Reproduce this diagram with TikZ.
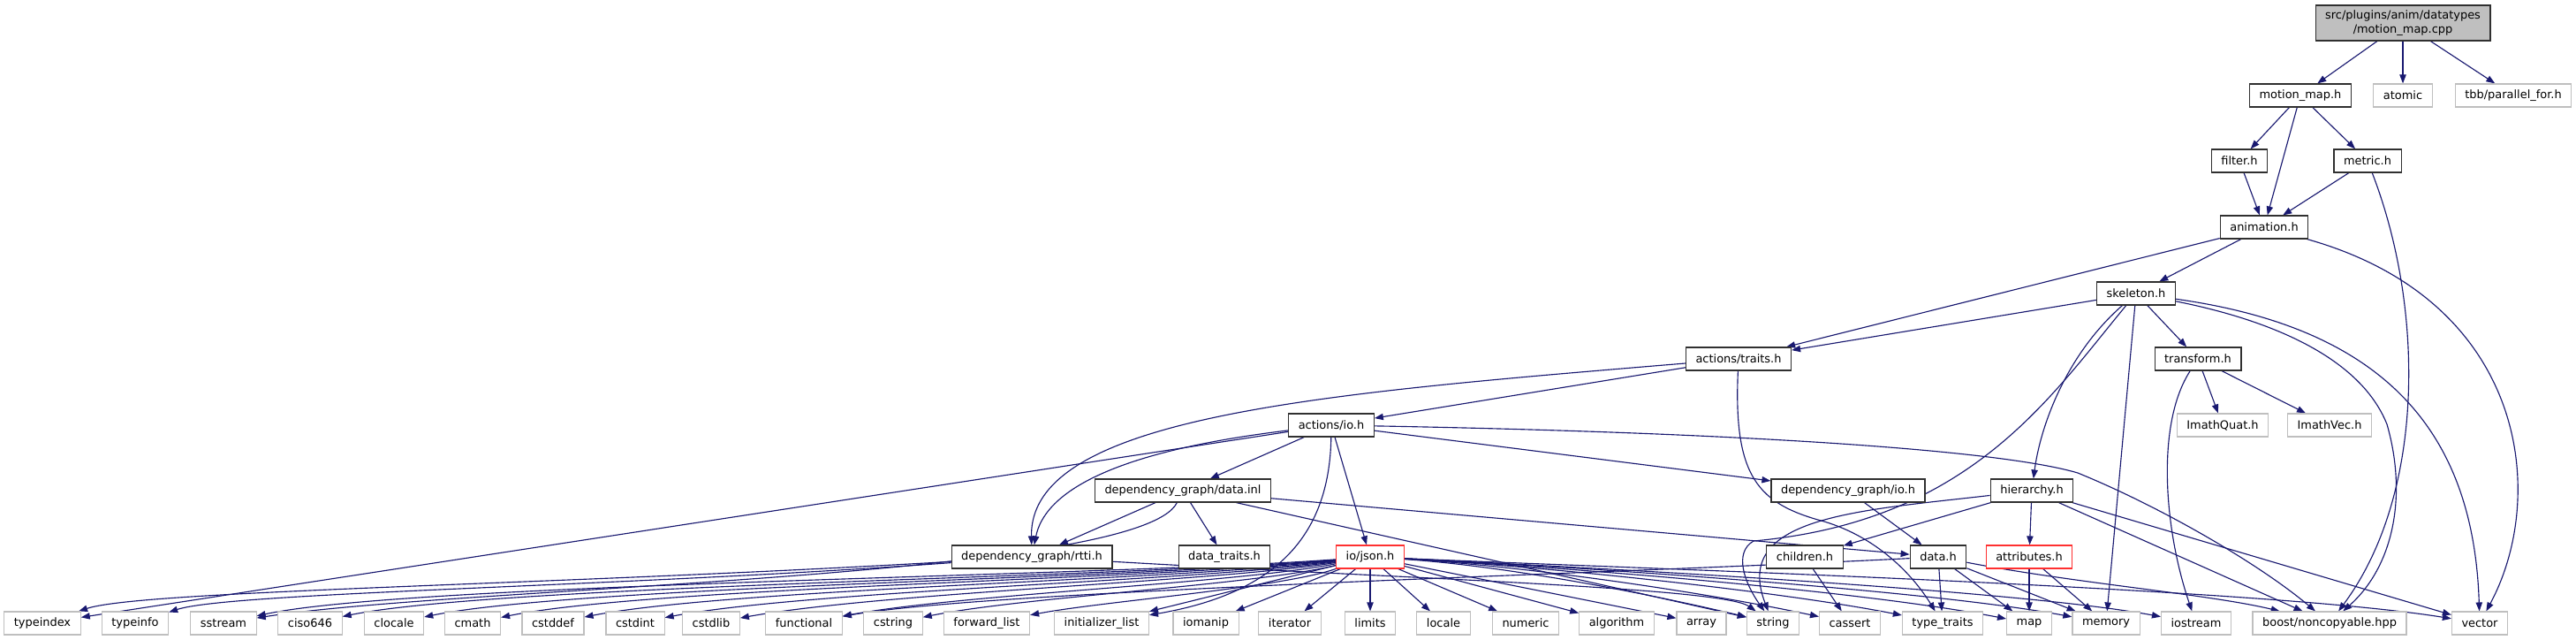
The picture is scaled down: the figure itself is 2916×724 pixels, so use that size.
\documentclass[tikz,border=0pt]{standalone}
\usepackage{fontspec}
\setmainfont{DejaVu Sans}
\usetikzlibrary{arrows.meta}
\pgfdeclarelayer{edgelayer}
\pgfsetlayers{edgelayer,main}
\definecolor{edgeblue}{HTML}{191970}
\definecolor{lgrey}{HTML}{BFBFBF}
\definecolor{truncred}{HTML}{FF3030}
\definecolor{boxline}{HTML}{303030}
\tikzset{
  hdr/.style={rectangle, draw=boxline, line width=0.85pt, fill=white, minimum height=19.5pt,
    inner xsep=8.3pt, inner ysep=0pt, font=\fontsize{9.7pt}{11.6pt}\selectfont},
  ext/.style={hdr, draw=lgrey, line width=0.85pt},
  trunc/.style={hdr, draw=truncred, line width=0.9pt},
  rootnode/.style={hdr, fill=lgrey, minimum height=30pt, align=center},
  dep/.style={draw=edgeblue, line width=0.85pt, -{Triangle[length=7.5pt,width=5.5pt]}}
}
\begin{document}
\begin{tikzpicture}[x=0.75pt,y=-0.75pt]
\useasboundingbox (0,0) rectangle (2916,724);
% nodes
\node[rootnode] (root) at (2720,26) {src/plugins/anim/datatypes\\/motion\_map.cpp};
\node[hdr] (mmh) at (2604,108) {motion\_map.h};
\node[ext] (atomic) at (2720,108) {atomic};
\node[ext] (tbb) at (2845,108) {tbb/parallel\_for.h};
\node[hdr] (filter) at (2535,182) {filter.h};
\node[hdr] (metric) at (2680,182) {metric.h};
\node[hdr] (anim) at (2563,257) {animation.h};
\node[hdr] (skel) at (2418,332) {skeleton.h};
\node[hdr] (traits) at (1968,406) {actions/traits.h};
\node[hdr] (transf) at (2488,406) {transform.h};
\node[hdr] (aio) at (1507,481) {actions/io.h};
\node[ext] (iquat) at (2516,481) {ImathQuat.h};
\node[ext] (ivec) at (2637,481) {ImathVec.h};
\node[hdr] (dinl) at (1339,555) {dependency\_graph/data.inl};
\node[hdr] (dgio) at (2092,555) {dependency\_graph/io.h};
\node[hdr] (hier) at (2300,555) {hierarchy.h};
\node[hdr] (rtti) at (1168,630) {dependency\_graph/rtti.h};
\node[hdr] (dtraits) at (1386,630) {data\_traits.h};
\node[trunc] (json) at (1551,630) {io/json.h};
\node[hdr] (children) at (2043,630) {children.h};
\node[hdr] (datah) at (2194,630) {data.h};
\node[trunc] (attr) at (2297,630) {attributes.h};
% bottom row
\node[ext] (ntypeindex) at (48,705) {typeindex};
\node[ext] (ntypeinfo) at (153,705) {typeinfo};
\node[ext] (nsstream) at (253,705) {sstream};
\node[ext] (nciso) at (351,705) {ciso646};
\node[ext] (nclocale) at (446,705) {clocale};
\node[ext] (ncmath) at (535,705) {cmath};
\node[ext] (ncstddef) at (626,705) {cstddef};
\node[ext] (ncstdint) at (719,705) {cstdint};
\node[ext] (ncstdlib) at (805,705) {cstdlib};
\node[ext] (nfunctional) at (910,705) {functional};
\node[ext] (ncstring) at (1011,705) {cstring};
\node[ext] (nfwdlist) at (1117,705) {forward\_list};
\node[ext] (ninitlist) at (1247,705) {initializer\_list};
\node[ext] (niomanip) at (1365,705) {iomanip};
\node[ext] (niterator) at (1460,705) {iterator};
\node[ext] (nlimits) at (1551,705) {limits};
\node[ext] (nlocale) at (1634,705) {locale};
\node[ext] (nnumeric) at (1727,705) {numeric};
\node[ext] (nalgorithm) at (1830,705) {algorithm};
\node[ext] (narray) at (1926,705) {array};
\node[ext] (nstring) at (2007,705) {string};
\node[ext] (ncassert) at (2094,705) {cassert};
\node[ext] (ntypetraits) at (2199,705) {type\_traits};
\node[ext] (nmap) at (2297,705) {map};
\node[ext] (nmemory) at (2384,705) {memory};
\node[ext] (niostream) at (2486,705) {iostream};
\node[ext] (nboost) at (2637,705) {boost/noncopyable.hpp};
\node[ext] (nvector) at (2807,705) {vector};
\begin{pgfonlayer}{edgelayer}
% edges: top
\draw[dep] (root) -- (mmh);
\draw[dep] (root) -- (atomic);
\draw[dep] (root) -- (tbb);
\draw[dep] (mmh) -- (filter);
\draw[dep] (mmh) -- (anim);
\draw[dep] (mmh) -- (metric);
\draw[dep] (filter) -- (anim);
\draw[dep] (metric) -- (anim);
\draw[dep] (metric) .. controls (2745,350) and (2745,560) .. (nboost);
\draw[dep] (anim) -- (traits);
\draw[dep] (anim) -- (skel);
\draw[dep] (anim) .. controls (2860,340) and (2885,560) .. (nvector);
% skeleton
\draw[dep] (skel) -- (traits);
\draw[dep] (skel) -- (transf);
\draw[dep] (skel) .. controls (2340,400) and (2310,480) .. (hier);
\draw[dep] (skel) -- (nmemory);
\draw[dep] (skel) .. controls (2320,450) and (2230,590) .. (1985,612) .. controls (1962,625) and (1975,660) .. (nstring);
\draw[dep] (skel) .. controls (2560,360) and (2670,400) .. (2702,480) .. controls (2725,560) and (2710,640) .. (nboost);
\draw[dep] (skel) .. controls (2690,370) and (2800,480) .. (nvector);
% transform
\draw[dep] (transf) -- (iquat);
\draw[dep] (transf) -- (ivec);
\draw[dep] (transf) .. controls (2440,480) and (2450,600) .. (niostream);
% actions/traits.h
\draw[dep] (traits) -- (aio);
\draw[dep] (traits) .. controls (1500,445) and (1165,470) .. (rtti);
\draw[dep] (traits) .. controls (1962,540) and (1990,570) .. (2065,590) .. controls (2125,608) and (2165,650) .. (ntypetraits);
% actions/io.h
\draw[dep] (aio) -- (dinl);
\draw[dep] (aio) -- (json);
\draw[dep] (aio) .. controls (1250,512) and (1182,560) .. (rtti);
\draw[dep] (aio) -- (ntypeindex);
\draw[dep] (aio) .. controls (1505,610) and (1440,672) .. (ninitlist);
\draw[dep] (aio) -- (dgio);
\draw[dep] (aio) .. controls (1900,488) and (2250,505) .. (2352,535) .. controls (2450,575) and (2560,640) .. (nboost);
% data.inl
\draw[dep] (dinl) -- (rtti);
\draw[dep] (dinl) -- (dtraits);
\draw[dep] (dinl) .. controls (1290,655) and (520,663) .. (nsstream);
\draw[dep] (dinl) -- (datah);
\draw[dep] (dinl) -- (nstring);
% rtti
\draw[dep] (rtti) .. controls (620,662) and (160,668) .. (ntypeindex);
\draw[dep] (rtti) .. controls (700,664) and (260,670) .. (ntypeinfo);
\draw[dep] (rtti) .. controls (1600,655) and (1950,665) .. (nstring);
% dependency_graph/io.h, hierarchy, children, data.h, attributes
\draw[dep] (dgio) -- (datah);
\draw[dep] (hier) -- (children);
\draw[dep] (hier) -- (attr);
\draw[dep] (hier) .. controls (2100,578) and (1960,585) .. (nstring);
\draw[dep] (hier) -- (nboost);
\draw[dep] (hier) -- (nvector);
\draw[dep] (children) -- (ncassert);
\draw[dep] (datah) -- (ntypetraits);
\draw[dep] (datah) -- (nmap);
\draw[dep] (datah) -- (nmemory);
\draw[dep] (datah) .. controls (2350,660) and (2500,672) .. (nboost);
\draw[dep] (datah) .. controls (1800,650) and (1120,668) .. (nfunctional);
\draw[dep] (attr) -- (nmap);
\draw[dep] (attr) -- (nmemory);
% io/json.h fan left
\draw[dep] (json) .. controls (1250,652) and (460,660) .. (nsstream);
\draw[dep] (json) .. controls (1280,653) and (560,662) .. (nciso);
\draw[dep] (json) .. controls (1300,654) and (650,663) .. (nclocale);
\draw[dep] (json) .. controls (1320,655) and (735,664) .. (ncmath);
\draw[dep] (json) .. controls (1340,656) and (825,666) .. (ncstddef);
\draw[dep] (json) .. controls (1360,657) and (915,668) .. (ncstdint);
\draw[dep] (json) .. controls (1380,658) and (1000,670) .. (ncstdlib);
\draw[dep] (json) .. controls (1400,660) and (1090,672) .. (nfunctional);
\draw[dep] (json) .. controls (1420,662) and (1160,675) .. (ncstring);
\draw[dep] (json) .. controls (1450,665) and (1250,680) .. (nfwdlist);
\draw[dep] (json) -- (ninitlist);
\draw[dep] (json) -- (niomanip);
\draw[dep] (json) -- (niterator);
\draw[dep] (json) -- (nlimits);
\draw[dep] (json) -- (nlocale);
\draw[dep] (json) -- (nnumeric);
\draw[dep] (json) -- (nalgorithm);
\draw[dep] (json) -- (narray);
% io/json.h fan right
\draw[dep] (json) .. controls (1700,640) and (1850,668) .. (nstring);
\draw[dep] (json) .. controls (1720,640) and (1920,668) .. (ncassert);
\draw[dep] (json) .. controls (1740,640) and (2010,668) .. (ntypetraits);
\draw[dep] (json) .. controls (1760,641) and (2100,667) .. (nmap);
\draw[dep] (json) .. controls (1780,641) and (2180,667) .. (nmemory);
\draw[dep] (json) .. controls (1800,642) and (2280,667) .. (niostream);
\draw[dep] (json) .. controls (1850,643) and (2560,665) .. (nvector);
\end{pgfonlayer}
\end{tikzpicture}
\end{document}
